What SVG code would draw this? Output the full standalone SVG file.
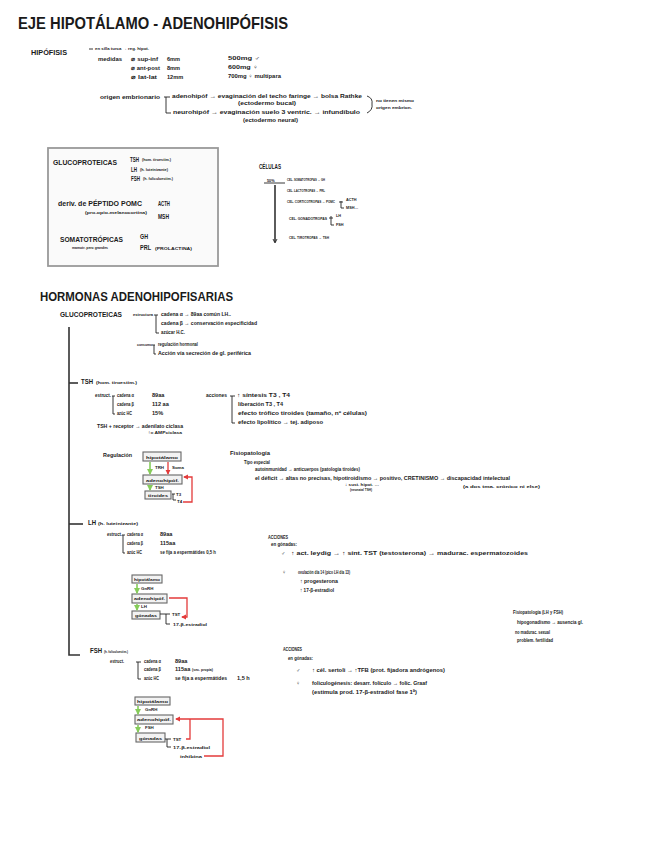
<svg xmlns="http://www.w3.org/2000/svg" width="656" height="848" viewBox="0 0 656 848">
<style>
text{font-family:"Liberation Sans",Arial,sans-serif;font-weight:bold;fill:#1a1a1a;font-size:5.6px}
.h1{font-size:16.5px;font-weight:bold}
.h2{font-size:12.5px}
.m{font-size:6.6px}
.s{font-size:4.4px}
.c{font-size:3.8px}
.ln{stroke:#222;stroke-width:0.9;fill:none}
.lk{stroke:#333;stroke-width:1.6;fill:none}
.bx{fill:#f2f2f2;stroke:#666;stroke-width:1.1}
.gr{stroke:#86cc5a;stroke-width:1.6;fill:none}
.rd{stroke:#e33b3b;stroke-width:1.3;fill:none}
</style>
<defs>
<marker id="ar" viewBox="0 0 6 6" refX="5" refY="3" markerWidth="4" markerHeight="4" orient="auto"><path d="M0,0 L6,3 L0,6z" fill="#e33b3b"/></marker>
<marker id="ag" viewBox="0 0 6 6" refX="5" refY="3" markerWidth="4" markerHeight="4" orient="auto"><path d="M0,0 L6,3 L0,6z" fill="#86cc5a"/></marker>
</defs>
<rect width="656" height="848" fill="#fff"/>

<g id="title"><text x="18" y="29" class="h1" textLength="270" lengthAdjust="spacingAndGlyphs">EJE HIPOTÁLAMO - ADENOHIPÓFISIS</text></g>

<g id="hipofisis">
<text x="31" y="55" class="m" textLength="36" lengthAdjust="spacingAndGlyphs">HIPÓFISIS</text>
<text x="95" y="50" class="s" textLength="54" lengthAdjust="spacingAndGlyphs">en silla turca → reg. hipot.</text>
<text x="98" y="61" textLength="24" lengthAdjust="spacingAndGlyphs">medidas</text>
<text x="131" y="61" textLength="27" lengthAdjust="spacingAndGlyphs">⌀ sup-inf</text><text x="167" y="61">6mm</text><text x="228" y="60" textLength="32" lengthAdjust="spacingAndGlyphs">500mg ♂</text>
<text x="131" y="70" textLength="29" lengthAdjust="spacingAndGlyphs">⌀ ant-post</text><text x="167" y="70">8mm</text><text x="228" y="69" textLength="30" lengthAdjust="spacingAndGlyphs">600mg ♀</text>
<text x="131" y="79" textLength="26" lengthAdjust="spacingAndGlyphs">⌀ lat-lat</text><text x="167" y="79">12mm</text><text x="228" y="78" textLength="53" lengthAdjust="spacingAndGlyphs">700mg ♀ multípara</text>
<text x="100" y="99" textLength="60" lengthAdjust="spacingAndGlyphs">origen embrionario</text>
<text x="172" y="98" textLength="190" lengthAdjust="spacingAndGlyphs">adenohipóf → evaginación del techo faringe → bolsa Rathke</text>
<text x="238" y="105" textLength="58" lengthAdjust="spacingAndGlyphs">(ectodermo bucal)</text>
<text x="173" y="114" textLength="187" lengthAdjust="spacingAndGlyphs">neurohipóf → evaginación suelo 3 ventríc. → infundíbulo</text>
<text x="243" y="122" textLength="55" lengthAdjust="spacingAndGlyphs">(ectodermo neural)</text>
<text x="376" y="102" class="s" textLength="38" lengthAdjust="spacingAndGlyphs">no tienen mismo</text>
<text x="376" y="109" class="s" textLength="36" lengthAdjust="spacingAndGlyphs">origen embrion.</text>
</g>

<g id="clasificacion">
<rect x="48" y="148" width="170" height="118" fill="#fafafa" stroke="#999" stroke-width="1.8"/>
<text x="53" y="165" class="m" textLength="64" lengthAdjust="spacingAndGlyphs">GLUCOPROTEICAS</text>
<text x="130" y="162" class="m" textLength="9" lengthAdjust="spacingAndGlyphs">TSH</text><text x="142" y="161" class="s" textLength="29" lengthAdjust="spacingAndGlyphs">(hom. tiroestim.)</text>
<text x="131" y="172" class="m" textLength="6" lengthAdjust="spacingAndGlyphs">LH</text><text x="140" y="171" class="s" textLength="28" lengthAdjust="spacingAndGlyphs">(h. luteinizante)</text>
<text x="131" y="181" class="m" textLength="9" lengthAdjust="spacingAndGlyphs">FSH</text><text x="143" y="180" class="s" textLength="30" lengthAdjust="spacingAndGlyphs">(h. foliculoestim.)</text>
<text x="58" y="206" class="m" textLength="84" lengthAdjust="spacingAndGlyphs">deriv. de PÉPTIDO POMC</text>
<text x="85" y="214" class="s" textLength="62" lengthAdjust="spacingAndGlyphs">(pro-opio-melanocortina)</text>
<text x="158" y="206" class="m" textLength="12" lengthAdjust="spacingAndGlyphs">ACTH</text>
<text x="158" y="219" class="m" textLength="11" lengthAdjust="spacingAndGlyphs">MSH</text>
<text x="60" y="242" class="m" textLength="63" lengthAdjust="spacingAndGlyphs">SOMATOTRÓPICAS</text>
<text x="72" y="249" class="s" textLength="36" lengthAdjust="spacingAndGlyphs">mamotr. pero grandes</text>
<text x="140" y="239" class="m" textLength="8" lengthAdjust="spacingAndGlyphs">GH</text>
<text x="140" y="250" class="m" textLength="11" lengthAdjust="spacingAndGlyphs">PRL</text><text x="155" y="250" class="s" textLength="37" lengthAdjust="spacingAndGlyphs">(PROLACTINA)</text>
</g>

<g id="celulas">
<text x="259" y="169" class="m" textLength="22" lengthAdjust="spacingAndGlyphs">CÉLULAS</text>
<text x="267" y="182" class="c">50%</text>
<text x="287" y="181" class="c" textLength="38" lengthAdjust="spacingAndGlyphs">CEL. SOMATOTROPAS → GH</text>
<text x="287" y="192" class="c" textLength="38" lengthAdjust="spacingAndGlyphs">CEL. LACTOTROPAS → PRL</text>
<text x="287" y="203" class="c" textLength="48" lengthAdjust="spacingAndGlyphs">CEL. CORTICOTROPAS → POMC</text>
<text x="346" y="201" class="c">ACTH</text>
<text x="346" y="209" class="c">MSH…</text>
<text x="289" y="220" class="c" textLength="38" lengthAdjust="spacingAndGlyphs">CEL. GONADOTROPAS</text>
<text x="336" y="217" class="c">LH</text>
<text x="336" y="226" class="c">FSH</text>
<text x="289" y="239" class="c" textLength="40" lengthAdjust="spacingAndGlyphs">CEL. TIROTROPAS → TSH</text>
</g>

<g id="hormonas-title"><text x="40" y="301" class="h2" textLength="193" lengthAdjust="spacingAndGlyphs">HORMONAS ADENOHIPOFISARIAS</text></g>

<g id="glucoproteicas">
<text x="60" y="317" class="m" textLength="62" lengthAdjust="spacingAndGlyphs">GLUCOPROTEICAS</text>
<text x="133" y="316" class="s" textLength="20" lengthAdjust="spacingAndGlyphs">estructura</text>
<text x="161" y="316" textLength="70" lengthAdjust="spacingAndGlyphs">cadena α → 89aa común LH..</text>
<text x="161" y="325" textLength="96" lengthAdjust="spacingAndGlyphs">cadena β → conservación especificidad</text>
<text x="161" y="334" textLength="24" lengthAdjust="spacingAndGlyphs">azúcar H.C.</text>
<text x="137" y="346" class="s" textLength="15" lengthAdjust="spacingAndGlyphs">consumo</text>
<text x="158" y="346" textLength="40" lengthAdjust="spacingAndGlyphs">regulación hormonal</text>
<text x="158" y="355" textLength="93" lengthAdjust="spacingAndGlyphs">Acción vía secreción de gl. periférica</text>
</g>

<g id="tsh">
<text x="81" y="384" class="m" textLength="12" lengthAdjust="spacingAndGlyphs">TSH</text><text x="96" y="384" class="s" textLength="41" lengthAdjust="spacingAndGlyphs">(hom. tiroestim.)</text>
<text x="95" y="397" textLength="16" lengthAdjust="spacingAndGlyphs">estruct.</text>
<text x="117" y="397" textLength="17" lengthAdjust="spacingAndGlyphs">cadena α</text><text x="152" y="397">89aa</text>
<text x="117" y="406" textLength="17" lengthAdjust="spacingAndGlyphs">cadena β</text><text x="152" y="406">112 aa</text>
<text x="117" y="415" textLength="15" lengthAdjust="spacingAndGlyphs">azúc HC</text><text x="152" y="415">15%</text>
<text x="97" y="428" textLength="86" lengthAdjust="spacingAndGlyphs">TSH + receptor → adenilato ciclasa</text>
<text x="148" y="434" class="s" textLength="34" lengthAdjust="spacingAndGlyphs">↑= AMPciclasa</text>
<text x="206" y="397" textLength="21" lengthAdjust="spacingAndGlyphs">acciones</text>
<text x="237" y="397" textLength="53" lengthAdjust="spacingAndGlyphs">↑ síntesis T3 , T4</text>
<text x="238" y="406" textLength="45" lengthAdjust="spacingAndGlyphs">liberación T3 , T4</text>
<text x="238" y="415" textLength="129" lengthAdjust="spacingAndGlyphs">efecto trófico tiroides (tamaño, nº células)</text>
<text x="238" y="424" textLength="85" lengthAdjust="spacingAndGlyphs">efecto lipolítico → tej. adiposo</text>
<text x="103" y="457" textLength="29" lengthAdjust="spacingAndGlyphs">Regulación</text>
<text x="230" y="455" textLength="40" lengthAdjust="spacingAndGlyphs">Fisiopatología</text>
<text x="244" y="464" textLength="26" lengthAdjust="spacingAndGlyphs">Tipo especial</text>
<text x="255" y="471" textLength="105" lengthAdjust="spacingAndGlyphs">autoinmunidad → anticuerpos (patología tiroides)</text>
<text x="255" y="480" textLength="255" lengthAdjust="spacingAndGlyphs">el déficit → altas no precisas, hipotiroidismo → positivo, CRETINISMO → discapacidad intelectual</text>
<text x="345" y="486" class="s" textLength="34" lengthAdjust="spacingAndGlyphs">↓ sust. hipot. …</text>
<text x="350" y="491" class="s" textLength="22" lengthAdjust="spacingAndGlyphs">(neonatal TSH)</text>
<text x="463" y="488" class="s" textLength="77" lengthAdjust="spacingAndGlyphs">(a dos tma. crónico ni else)</text>
</g>
<g id="tsh-hipotalamo"><rect x="143" y="452" width="38" height="9" class="bx"/><text x="146" y="459" class="s" textLength="32" lengthAdjust="spacingAndGlyphs">hipotálamo</text></g>
<g id="tsh-adeno"><rect x="143" y="475" width="39" height="9" class="bx"/><text x="146" y="482" class="s" textLength="33" lengthAdjust="spacingAndGlyphs">adenohipóf.</text></g>
<g id="tsh-tiroides"><rect x="145" y="491" width="26" height="8" class="bx"/><text x="148" y="497" class="s" textLength="20" lengthAdjust="spacingAndGlyphs">tiroides</text></g>

<g id="lh">
<text x="88" y="525" class="m" textLength="8" lengthAdjust="spacingAndGlyphs">LH</text><text x="98" y="525" class="s" textLength="40" lengthAdjust="spacingAndGlyphs">(h. luteinizante)</text>
<text x="107" y="536" textLength="15" lengthAdjust="spacingAndGlyphs">estruct.</text>
<text x="127" y="536" textLength="16" lengthAdjust="spacingAndGlyphs">cadena α</text><text x="160" y="536">89aa</text>
<text x="127" y="545" textLength="16" lengthAdjust="spacingAndGlyphs">cadena β</text><text x="160" y="545">115aa</text>
<text x="127" y="554" textLength="15" lengthAdjust="spacingAndGlyphs">azúc HC</text><text x="160" y="554" textLength="56" lengthAdjust="spacingAndGlyphs">se fija a espermátides 0,5 h</text>
<text x="268" y="539" textLength="20" lengthAdjust="spacingAndGlyphs">ACCIONES</text>
<text x="271" y="546" textLength="26" lengthAdjust="spacingAndGlyphs">en gónadas:</text>
<text x="281" y="555" font-size="6.5">♂</text><text x="291" y="555" textLength="237" lengthAdjust="spacingAndGlyphs">↑ act. leydig → ↑ sínt. TST (testosterona) → madurac. espermatozoides</text>
<text x="282" y="574" font-size="6.5">♀</text><text x="298" y="574" textLength="52" lengthAdjust="spacingAndGlyphs">ovulación día 14 (pico LH día 13)</text>
<text x="300" y="583" textLength="38" lengthAdjust="spacingAndGlyphs">↑ progesterona</text>
<text x="300" y="592" textLength="34" lengthAdjust="spacingAndGlyphs">↑ 17-β-estradiol</text>
<text x="172" y="616" class="s">TST</text>
<text x="173" y="626" class="s" textLength="34" lengthAdjust="spacingAndGlyphs">17-β-estradiol</text>
</g>
<g id="lh-hipotalamo"><rect x="132" y="575" width="30" height="8" class="bx"/><text x="134" y="581" class="s" textLength="26" lengthAdjust="spacingAndGlyphs">hipotálamo</text></g>
<g id="lh-adeno"><rect x="132" y="594" width="35" height="9" class="bx"/><text x="134" y="600" class="s" textLength="31" lengthAdjust="spacingAndGlyphs">adenohipóf.</text></g>
<g id="lh-gonadas"><rect x="132" y="611" width="28" height="8" class="bx"/><text x="135" y="617" class="s" textLength="22" lengthAdjust="spacingAndGlyphs">gónadas</text></g>

<g id="fisiopatologia-gonadal">
<text x="513" y="614" textLength="50" lengthAdjust="spacingAndGlyphs">Fisiopatología (LH y FSH)</text>
<text x="517" y="624" textLength="66" lengthAdjust="spacingAndGlyphs">hipogonadismo → ausencia gl.</text>
<text x="515" y="634" textLength="35" lengthAdjust="spacingAndGlyphs">no madurac. sexual</text>
<text x="517" y="642" textLength="36" lengthAdjust="spacingAndGlyphs">problem. fertilidad</text>
</g>

<g id="fsh">
<text x="90" y="653" class="m" textLength="12" lengthAdjust="spacingAndGlyphs">FSH</text><text x="104" y="653" class="s" textLength="24" lengthAdjust="spacingAndGlyphs">(h. foliculoestim.)</text>
<text x="110" y="663" textLength="14" lengthAdjust="spacingAndGlyphs">estruct.</text>
<text x="144" y="663" textLength="17" lengthAdjust="spacingAndGlyphs">cadena α</text><text x="175" y="663">89aa</text>
<text x="144" y="671" textLength="17" lengthAdjust="spacingAndGlyphs">cadena β</text><text x="175" y="671">115aa</text><text x="192" y="671" class="s" textLength="21" lengthAdjust="spacingAndGlyphs">(sec. propia)</text>
<text x="144" y="680" textLength="15" lengthAdjust="spacingAndGlyphs">azúc HC</text><text x="175" y="680" textLength="52" lengthAdjust="spacingAndGlyphs">se fija a espermátides</text><text x="237" y="680">1,5 h</text>
<text x="283" y="651" textLength="19" lengthAdjust="spacingAndGlyphs">ACCIONES</text>
<text x="288" y="660" textLength="25" lengthAdjust="spacingAndGlyphs">en gónadas:</text>
<text x="296" y="672" font-size="6.5">♂</text><text x="312" y="672" textLength="133" lengthAdjust="spacingAndGlyphs">↑ cél. sertoli → ↑TFB (prot. fijadora andrógenos)</text>
<text x="296" y="685" font-size="6.5">♀</text><text x="312" y="685" textLength="115" lengthAdjust="spacingAndGlyphs">foliculogénesis: desarr. folículo → folíc. Graaf</text>
<text x="312" y="694" textLength="105" lengthAdjust="spacingAndGlyphs">(estimula prod. 17-β-estradiol fase 1ª)</text>
<text x="173" y="741" class="s">TST</text>
<text x="173" y="749" class="s" textLength="37" lengthAdjust="spacingAndGlyphs">17-β-estradiol</text>
<text x="180" y="758" class="s" textLength="22" lengthAdjust="spacingAndGlyphs">inhibina</text>
</g>
<g id="fsh-hipotalamo"><rect x="135" y="697" width="35" height="8" class="bx"/><text x="137" y="703" class="s" textLength="31" lengthAdjust="spacingAndGlyphs">hipotálamo</text></g>
<g id="fsh-adeno"><rect x="135" y="715" width="38" height="9" class="bx"/><text x="137" y="721" class="s" textLength="34" lengthAdjust="spacingAndGlyphs">adenohipóf.</text></g>
<g id="fsh-gonadas"><rect x="136" y="733" width="29" height="9" class="bx"/><text x="139" y="740" class="s" textLength="23" lengthAdjust="spacingAndGlyphs">gónadas</text></g>

<g id="connectors">
<path class="ln" d="M89,49 H93"/>
<path class="ln" d="M164,97 H170 M166,97 V113 H171"/>
<path class="ln" d="M367,96 Q373,98 372,104 Q373,110 367,113"/>
<path class="ln" d="M264,183 H285"/>
<path class="lk" d="M275,185 V242"/>
<path class="ln" d="M273,239 L275,243 L277,239"/>
<path class="ln" d="M339,202 H343 M341,201 V208 H344"/>
<path class="ln" d="M329,218 H333 M331,216 V225 H334"/>
<path class="ln" d="M154,315 H158 M156,315 V333 H159"/>
<path class="ln" d="M152,345 H155 M154,345 V354 H156"/>
<path class="lk" d="M69,327 V655 H80"/>
<path class="lk" d="M69,383 H78"/>
<path class="lk" d="M69,524 H83"/>
<path class="ln" d="M112,396 H115 M113,396 V414 H115"/>
<path class="ln" d="M230,396 H235 M232,396 V423 H235"/>
<path class="ln" d="M122,535 H125 M123,535 V553 H125"/>
<path class="ln" d="M136,662 H141 M138,662 V679 H141"/>
<path class="ln" d="M172,494 H175 M173,494 V500 H176"/>
<path class="ln" d="M160,614 H170 M166,614 V624 H170"/>
<path class="ln" d="M165,739 H171 M167,739 V747 H171"/>
<text x="176" y="496" class="s">T3</text><text x="177" y="503" class="s">T4</text>
<path class="gr" d="M150,462 V474" marker-end="url(#ag)"/>
<text x="155" y="469" class="s">TRH</text>
<path class="rd" d="M168,462 V474" marker-end="url(#ar)"/>
<text x="172" y="469" class="s">Soma</text>
<path class="gr" d="M150,485 V490" marker-end="url(#ag)"/>
<text x="155" y="489" class="s">TSH</text>
<path class="rd" d="M183,502 H192 V477 H184" marker-end="url(#ar)"/>
<path class="gr" d="M137,584 V593" marker-end="url(#ag)"/>
<text x="141" y="590" class="s">GnRH</text>
<path class="gr" d="M137,604 V610" marker-end="url(#ag)"/>
<text x="141" y="608" class="s">LH</text>
<path class="rd" d="M169,598 H187 V617 H182" marker-end="url(#ar)"/>
<path class="gr" d="M138,706 V714" marker-end="url(#ag)"/>
<text x="145" y="711" class="s">GnRH</text>
<path class="gr" d="M138,725 V732" marker-end="url(#ag)"/>
<text x="145" y="729" class="s">FSH</text>
<path class="rd" d="M186,739 H190 V719"/>
<path class="rd" d="M204,756 H223 V719 H176" marker-end="url(#ar)"/>
</g>
</svg>
